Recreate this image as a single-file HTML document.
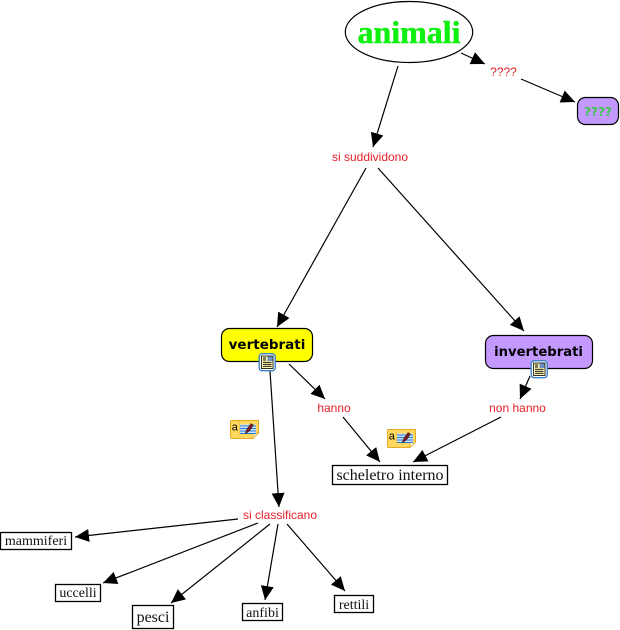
<!DOCTYPE html>
<html>
<head>
<meta charset="utf-8">
<style>
html,body{margin:0;padding:0;background:#fff;}
svg{display:block;}
.l{font-family:"Liberation Sans",sans-serif;font-size:12px;fill:#e8202a;text-anchor:middle;}
.c{font-family:"Liberation Serif",serif;fill:#111;text-anchor:middle;}
.b{font-family:"DejaVu Sans",sans-serif;font-weight:bold;text-anchor:middle;fill:#000;}
.e{stroke:#000;stroke-width:1.2;fill:none;marker-end:url(#a);}
.r{fill:#fff;stroke:#000;stroke-width:1.3;}
</style>
</head>
<body>
<svg width="620" height="630" viewBox="0 0 620 630" xmlns="http://www.w3.org/2000/svg">
<defs>
<marker id="a" markerUnits="userSpaceOnUse" markerWidth="16" markerHeight="16" refX="14" refY="7" orient="auto">
<path d="M0 0.5L14 7L0 13.5Z" fill="#000"/>
</marker>
<g id="doc">
<rect x="0.7" y="0.7" width="16" height="17" rx="3" fill="#fff" stroke="#3b82c8" stroke-width="1.4"/>
<rect x="3" y="3" width="11.5" height="12.5" fill="#fdf6b0" stroke="#000" stroke-width="0.8"/>
<rect x="9" y="3.5" width="5" height="4.5" fill="#6f8fc0"/>
<path d="M4.5 5h3M4.5 7h3M4.5 9.3h8.5M4.5 11.3h8.5M4.5 13.3h8.5" stroke="#000" stroke-width="0.9"/>
</g>
<g id="note">
<path d="M0.5 1.5q0-1 1-1H28.5V13L23 18.5H1.5q-1 0-1-1Z" fill="#ffd95e" stroke="#e3aa24"/>
<path d="M23 18.5V13H28.5Z" fill="#fff6c8" stroke="#e3aa24" stroke-width="0.7"/>
<path d="M9.5 1V16" stroke="#f0c050" stroke-width="0.7"/>
<text x="1.8" y="10.5" font-family="Liberation Sans,sans-serif" font-size="11" fill="#000">a</text>
<rect x="10" y="4.5" width="16" height="9" fill="#cfe2fa"/>
<path d="M10 6h16M10 8.5h16M10 11h16M10 13.5h16" stroke="#2c7ad0" stroke-width="0.9"/>
<path d="M15 14L17 9L21 3.5L23.5 5L19.5 11Z" fill="#7a1c1c" stroke="#222" stroke-width="0.5"/>
</g>
</defs>

<line class="e" x1="461" y1="53" x2="485" y2="64"/>
<line class="e" x1="521" y1="79" x2="575" y2="102"/>
<line class="e" x1="398" y1="66" x2="373" y2="147"/>
<line class="e" x1="366" y1="168" x2="277" y2="327"/>
<line class="e" x1="378" y1="168" x2="524" y2="331"/>
<line class="e" x1="270" y1="371" x2="279" y2="507"/>
<line class="e" x1="289" y1="364" x2="325" y2="399"/>
<line class="e" x1="343" y1="417" x2="380" y2="462"/>
<line class="e" x1="530" y1="376" x2="520" y2="399"/>
<line class="e" x1="501" y1="417" x2="413" y2="462"/>
<line class="e" x1="238" y1="519" x2="75" y2="537"/>
<line class="e" x1="258" y1="523" x2="103" y2="583"/>
<line class="e" x1="270" y1="524" x2="171" y2="603"/>
<line class="e" x1="278" y1="524" x2="265" y2="600"/>
<line class="e" x1="287" y1="524" x2="345" y2="591"/>

<ellipse cx="409" cy="32" rx="63.7" ry="30.5" fill="#fff" stroke="#000" stroke-width="1.2"/>
<text x="409" y="43" style="font-family:'Liberation Serif',serif;font-weight:bold;font-size:32px;fill:#10f010;stroke:#10f010;stroke-width:0.5;text-anchor:middle">animali</text>

<rect x="577.5" y="97.5" width="41" height="27" rx="8" fill="#c499ff" stroke="#000" stroke-width="1.2"/>
<text class="b" x="598" y="116" style="font-size:12px;fill:#3ac84a">????</text>

<rect x="221.5" y="328.5" width="91" height="33" rx="8" fill="#ffff00" stroke="#000" stroke-width="1.2"/>
<text class="b" x="267" y="349" style="font-size:13.5px">vertebrati</text>

<rect x="485.5" y="335.5" width="107" height="33" rx="8" fill="#c499ff" stroke="#000" stroke-width="1.2"/>
<text class="b" x="538.5" y="356" style="font-size:13.2px">invertebrati</text>

<use href="#doc" x="258.5" y="353"/>
<use href="#doc" x="530.5" y="360"/>
<use href="#note" x="230" y="420"/>
<use href="#note" x="387" y="429"/>

<text class="l" x="503.5" y="76">????</text>
<text class="l" x="370" y="161">si suddividono</text>
<text class="l" x="334" y="412">hanno</text>
<text class="l" x="517.5" y="412">non hanno</text>
<text class="l" x="280" y="519">si classificano</text>

<rect class="r" x="332.5" y="465.5" width="115" height="19"/>
<text class="c" x="390" y="480" style="font-size:16px">scheletro interno</text>

<rect class="r" x="0.5" y="532.5" width="71" height="17"/>
<text class="c" x="36" y="545" style="font-size:14px">mammiferi</text>

<rect class="r" x="55.5" y="584.5" width="45" height="17"/>
<text class="c" x="78" y="597" style="font-size:14px">uccelli</text>

<rect class="r" x="132.5" y="605.5" width="41" height="23"/>
<text class="c" x="153" y="622" style="font-size:16px">pesci</text>

<rect class="r" x="242.5" y="603.5" width="40" height="17"/>
<text class="c" x="262.5" y="617" style="font-size:14px">anfibi</text>

<rect class="r" x="334.5" y="595.5" width="39" height="17"/>
<text class="c" x="354" y="609" style="font-size:14px">rettili</text>
</svg>
</body>
</html>
